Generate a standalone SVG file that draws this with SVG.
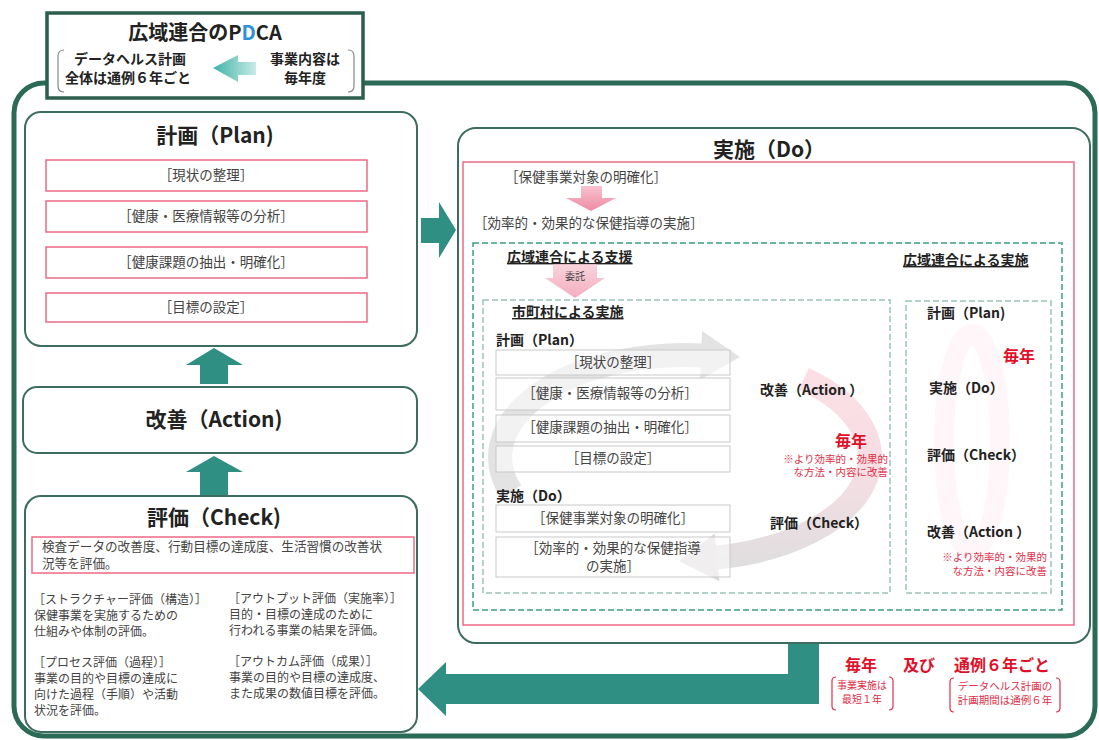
<svg xmlns="http://www.w3.org/2000/svg" width="1099" height="740" viewBox="0 0 1099 740">
<defs>
<style>
text{font-family:"Noto Sans CJK JP","Noto Sans",sans-serif;}
.frame{fill:none;stroke:#2b6a56;stroke-width:5;}
.box{fill:#fff;stroke:#3d6d60;stroke-width:2;}
.pink{fill:#fff;stroke:#ee6a86;stroke-width:1.5;}
.h1{font-size:21px;font-weight:700;fill:#222;text-anchor:middle;}
.item{font-size:13.5px;fill:#444;text-anchor:middle;}
.body{font-size:12px;fill:#444;}
.bold{font-size:14px;font-weight:700;fill:#222;}
.und{font-size:14px;font-weight:700;fill:#222;text-decoration:underline;}
.red{fill:#e0102a;font-weight:700;}
.redsm{fill:#e0304a;font-size:10.5px;}
.teal{fill:#2f8f82;}
.gdash{fill:none;stroke:#3aa07e;stroke-width:1.5;stroke-dasharray:6 3;}
.ldash{fill:none;stroke:#9cc4b8;stroke-width:1.5;stroke-dasharray:6 3;}
.row{fill:#fff;fill-opacity:0.55;stroke:#c9c9c9;stroke-width:1;}
.brk{fill:none;stroke:#888;stroke-width:1.2;}
.rbrk{fill:none;stroke:#e0304a;stroke-width:1.2;}
.tt{font-size:14px;font-weight:700;fill:#222;text-anchor:middle;}
</style>
<linearGradient id="tealg" x1="0" x2="1" y1="0" y2="0">
<stop offset="0" stop-color="#3fb3a8"/><stop offset="1" stop-color="#c7ebe7"/>
</linearGradient>
<linearGradient id="pinkg" x1="0" x2="0" y1="0" y2="1">
<stop offset="0" stop-color="#f7c2cf"/><stop offset="1" stop-color="#ee8aa2"/>
</linearGradient>
<linearGradient id="cycB" x1="0" x2="0" y1="0" y2="1">
<stop offset="0" stop-color="#f3a3b5"/><stop offset="0.5" stop-color="#e6a0b0"/><stop offset="1" stop-color="#a9a0a4"/>
</linearGradient>
</defs>
<rect width="1099" height="740" fill="#fff"/>
<!-- outer frame -->
<rect class="frame" x="14" y="83" width="1081" height="653" rx="30"/>

<!-- title -->
<g id="title">
<rect x="47" y="13" width="316" height="85" fill="#fff" stroke="#2b5e4d" stroke-width="3.5"/>
<text x="205" y="40" style="font-size:20px;font-weight:700;fill:#222;text-anchor:middle">広域連合のP<tspan fill="#2a92dc">D</tspan>CA</text>
<path class="brk" d="M64 50 Q58 50 58 56 L58 86 Q58 92 64 92"/>
<path class="brk" d="M348 50 Q354 50 354 56 L354 86 Q354 92 348 92"/>
<text class="tt" x="130" y="64">データヘルス計画</text>
<text class="tt" x="128" y="83">全体は通例６年ごと</text>
<path d="M213 68 L238 55 L238 62 L256 62 L256 75 L238 75 L238 82 Z" fill="url(#tealg)"/>
<text class="tt" x="305" y="64">事業内容は</text>
<text class="tt" x="305" y="83">毎年度</text>
</g>

<!-- connectors -->
<g id="connectors">
<path class="teal" d="M214 348 L243 365 L228 365 L228 384 L200 384 L200 365 L186 365 Z"/>
<path class="teal" d="M214 456 L243 472 L228 472 L228 496 L200 496 L200 472 L186 472 Z"/>
<path class="teal" d="M421 218 L439 218 L439 202 L456 230 L439 258 L439 243 L421 243 Z"/>
<path class="teal" d="M788 644 L819 644 L819 704 L446 704 L446 716 L418 689 L446 662 L446 674 L788 674 Z"/>
</g>

<!-- Plan -->
<g id="plan">
<rect class="box" x="25" y="112" width="392" height="234" rx="16"/>
<text class="h1" x="215" y="143">計画（Plan)</text>
<rect class="pink" x="46" y="160" width="321" height="31"/>
<text class="item" x="206" y="180">［現状の整理］</text>
<rect class="pink" x="46" y="201" width="321" height="31"/>
<text class="item" x="206" y="221">［健康・医療情報等の分析］</text>
<rect class="pink" x="46" y="247" width="321" height="31"/>
<text class="item" x="206" y="267">［健康課題の抽出・明確化］</text>
<rect class="pink" x="46" y="293" width="321" height="29"/>
<text class="item" x="206" y="312">［目標の設定］</text>
</g>

<!-- Action -->
<g id="action">
<rect class="box" x="23" y="387" width="394" height="66" rx="14"/>
<text class="h1" x="214" y="427">改善（Action)</text>
</g>

<!-- Check -->
<g id="check">
<rect class="box" x="25" y="496" width="392" height="236" rx="16"/>
<text class="h1" x="214" y="525">評価（Check)</text>
<rect class="pink" x="32" y="537" width="382" height="36"/>
<text class="body" x="42" y="551" style="font-size:12.6px">検査データの改善度、行動目標の達成度、生活習慣の改善状</text>
<text class="body" x="42" y="568" style="font-size:12.6px">況等を評価。</text>
<text class="body" x="33" y="604">［ストラクチャー評価（構造）］</text>
<text class="body" x="34" y="620">保健事業を実施するための</text>
<text class="body" x="34" y="636">仕組みや体制の評価。</text>
<text class="body" x="228" y="603">［アウトプット評価（実施率）］</text>
<text class="body" x="229" y="619">目的・目標の達成のために</text>
<text class="body" x="229" y="635">行われる事業の結果を評価。</text>
<text class="body" x="33" y="667">［プロセス評価（過程）］</text>
<text class="body" x="34" y="683">事業の目的や目標の達成に</text>
<text class="body" x="34" y="699">向けた過程（手順）や活動</text>
<text class="body" x="34" y="715">状況を評価。</text>
<text class="body" x="228" y="666">［アウトカム評価（成果）］</text>
<text class="body" x="229" y="682">事業の目的や目標の達成度、</text>
<text class="body" x="229" y="698">また成果の数値目標を評価。</text>
</g>

<!-- Do -->
<g id="do">
<rect class="box" x="458" y="128" width="632" height="515" rx="18"/>
<text class="h1" x="769" y="157">実施（Do）</text>
<rect class="pink" x="463" y="162" width="611" height="463"/>
<text class="item" x="586" y="182" style="text-anchor:middle">［保健事業対象の明確化］</text>
<path d="M581 186 L602 186 L602 198 L616 198 L591 211 L566 198 L581 198 Z" fill="url(#pinkg)"/>
<text class="item" x="474" y="228" style="text-anchor:start">［効率的・効果的な保健指導の実施］</text>
<rect class="gdash" x="473" y="243" width="589" height="367"/>
<text class="und" x="507" y="262">広域連合による支援</text>
<path d="M553 264 L597 264 L597 278 L605 278 L575 298 L545 278 L553 278 Z" fill="url(#pinkg)" opacity="0.7"/>
<text x="575" y="280" style="font-size:10px;fill:#444;text-anchor:middle">委託</text>
<text class="und" x="903" y="265">広域連合による実施</text>
</g>

<!-- municipal cycle -->
<g id="municipal">
<rect class="ldash" x="483" y="300" width="407" height="293"/>
<path d="M511.2 491.9 A185 102 0 0 1 701.1 355.4" fill="none" stroke="#b3b0b1" stroke-width="24" stroke-opacity="0.35"/>
<path d="M699.8 380 L702.2 331 L740 357 Z" fill="#b3b0b1" fill-opacity="0.35"/>
<path d="M803.9 378.9 A185 102 0 0 1 717.1 557.4" fill="none" stroke="url(#cycB)" stroke-width="24" stroke-opacity="0.35"/>
<path d="M719.4 581.3 L714.8 533.5 L679 561 Z" fill="#a9a0a4" fill-opacity="0.4"/>
<text class="und" x="512" y="317">市町村による実施</text>
<text class="bold" x="496" y="345">計画（Plan）</text>
<rect class="row" x="496" y="350" width="234" height="25"/>
<text class="item" x="613" y="367">［現状の整理］</text>
<rect class="row" x="496" y="378" width="234" height="32"/>
<text class="item" x="610" y="398">［健康・医療情報等の分析］</text>
<rect class="row" x="496" y="415" width="234" height="27"/>
<text class="item" x="610" y="432">［健康課題の抽出・明確化］</text>
<rect class="row" x="496" y="446" width="234" height="26"/>
<text class="item" x="613" y="463">［目標の設定］</text>
<text class="bold" x="496" y="501">実施（Do）</text>
<rect class="row" x="496" y="505" width="234" height="27"/>
<text class="item" x="613" y="523">［保健事業対象の明確化］</text>
<rect class="row" x="496" y="537" width="234" height="40"/>
<text class="item" x="613" y="553">［効率的・効果的な保健指導</text>
<text class="item" x="613" y="571">の実施］</text>
<text class="bold" x="760" y="395">改善（Action ）</text>
<text class="red" x="851" y="447" style="font-size:16px;text-anchor:middle">毎年</text>
<text class="redsm" x="888" y="463" style="text-anchor:end">※より効率的・効果的</text>
<text class="redsm" x="888" y="476" style="text-anchor:end">な方法・内容に改善</text>
<text class="bold" x="770" y="528">評価（Check）</text>
</g>

<!-- union cycle -->
<g id="union">
<rect class="ldash" x="906" y="301" width="145" height="292"/>
<ellipse cx="972" cy="442" rx="28" ry="108" fill="none" stroke="#f2a6b8" stroke-width="20" stroke-opacity="0.1"/>
<text class="bold" x="927" y="318">計画（Plan)</text>
<text class="red" x="1003" y="362" style="font-size:16px">毎年</text>
<text class="bold" x="929" y="393">実施（Do）</text>
<text class="bold" x="927" y="460">評価（Check）</text>
<text class="bold" x="927" y="537">改善（Action ）</text>
<text class="redsm" x="1047" y="561" style="text-anchor:end">※より効率的・効果的</text>
<text class="redsm" x="1047" y="575" style="text-anchor:end">な方法・内容に改善</text>
</g>

<!-- period note -->
<g id="period">
<text class="red" x="861" y="671" style="font-size:16px;text-anchor:middle">毎年</text>
<text class="red" x="919" y="671" style="font-size:16px;text-anchor:middle">及び</text>
<text class="red" x="1002" y="671" style="font-size:16px;text-anchor:middle">通例６年ごと</text>
<path class="rbrk" d="M836 677 Q832 677 832 681 L832 706 Q832 710 836 710"/>
<path class="rbrk" d="M889 677 Q893 677 893 681 L893 706 Q893 710 889 710"/>
<text class="redsm" x="862" y="689" style="font-size:10px;text-anchor:middle">事業実施は</text>
<text class="redsm" x="862" y="703" style="font-size:10px;text-anchor:middle">最短１年</text>
<path class="rbrk" d="M954 678 Q950 678 950 682 L950 708 Q950 712 954 712"/>
<path class="rbrk" d="M1056 678 Q1060 678 1060 682 L1060 708 Q1060 712 1056 712"/>
<text class="redsm" x="1005" y="690" style="font-size:10.5px;text-anchor:middle">データヘルス計画の</text>
<text class="redsm" x="1005" y="704" style="font-size:10.5px;text-anchor:middle">計画期間は通例６年</text>
</g>
</svg>
